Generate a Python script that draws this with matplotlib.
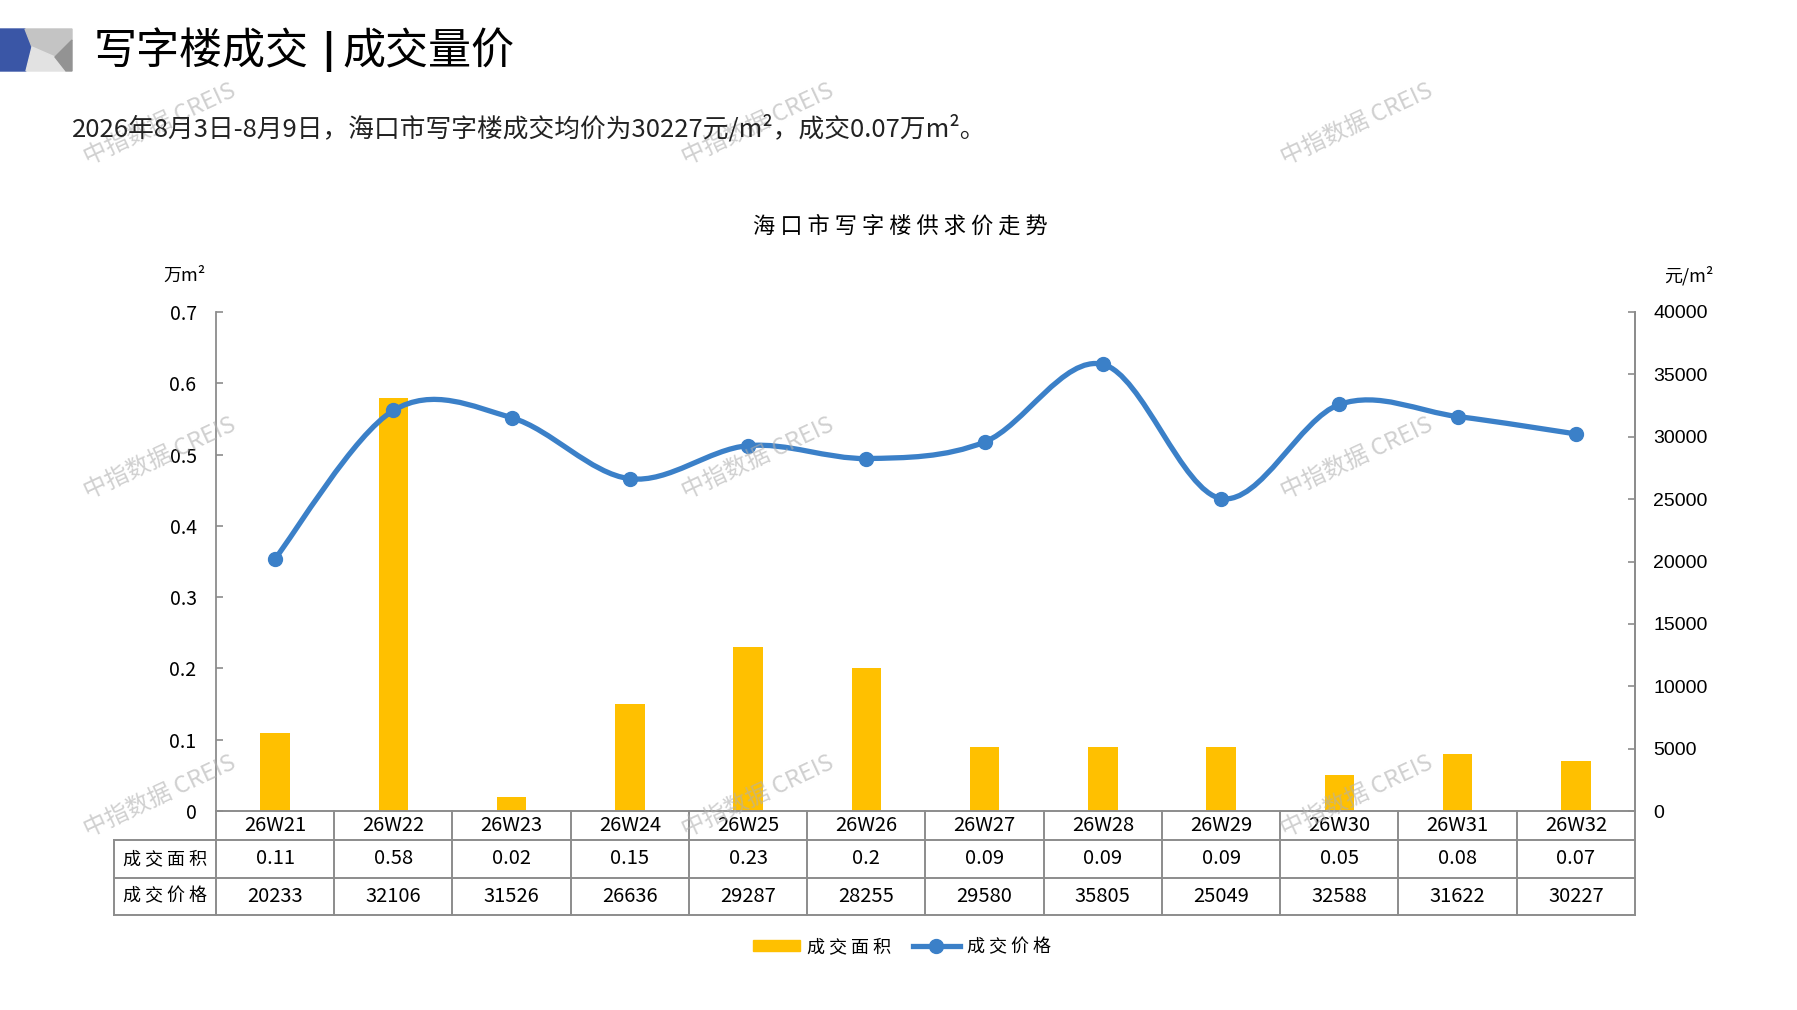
import numpy as np
import matplotlib.pyplot as plt
from matplotlib.path import Path
from matplotlib.patches import PathPatch, Polygon, Rectangle
from matplotlib.lines import Line2D
from matplotlib.transforms import blended_transform_factory

plt.rcParams['font.family'] = ['Noto Sans CJK SC', 'DejaVu Sans']

weeks = ['26W21', '26W22', '26W23', '26W24', '26W25', '26W26',
         '26W27', '26W28', '26W29', '26W30', '26W31', '26W32']
area = [0.11, 0.58, 0.02, 0.15, 0.23, 0.2, 0.09, 0.09, 0.09, 0.05, 0.08, 0.07]
price = [20233, 32106, 31526, 26636, 29287, 28255, 29580, 35805, 25049, 32588, 31622, 30227]
area_labels = ['0.11', '0.58', '0.02', '0.15', '0.23', '0.2',
               '0.09', '0.09', '0.09', '0.05', '0.08', '0.07']
row_names = ['成 交 面 积', '成 交 价 格']

W, H = 1797, 1010
bar_c = '#FFC000'
line_c = '#3B80C8'
grid_c = '#8C8C8C'

fig = plt.figure(figsize=(W / 100, H / 100), dpi=100)
fig.patch.set_facecolor('white')

# main axes (pixel box 216..1635 x 312..811)
ax = fig.add_axes([216 / W, 1 - 811 / H, 1419 / W, 499 / H])
ax.set_facecolor('none')
x = np.arange(len(weeks))
ax.bar(x, area, width=0.25, color=bar_c, zorder=2)
ax.set_xlim(-0.5, len(weeks) - 0.5)
ax.set_ylim(0, 0.7)
ax.set_yticks(np.arange(0, 0.71, 0.1))
ax.set_yticklabels([f'{v:g}' for v in np.arange(0, 0.71, 0.1).round(1)])
ax.set_xticks([])
for s in ['top', 'bottom']:
    ax.spines[s].set_visible(False)
for s in ['left', 'right']:
    ax.spines[s].set_color(grid_c)
    ax.spines[s].set_linewidth(1.3)
ax.tick_params(axis='y', direction='in', length=5, color=grid_c, width=1.2,
               pad=14, labelsize=14)

ax2 = ax.twinx()
ax2.set_ylim(0, 40000)
ax2.set_yticks(np.arange(0, 40001, 5000))
ax2.tick_params(axis='y', direction='in', length=5, color=grid_c, width=1.2,
                pad=13, labelsize=14)
for lab in ax2.get_yticklabels():
    lab.set_family('Liberation Sans')
for s in ['top', 'bottom', 'left']:
    ax2.spines[s].set_visible(False)
ax2.spines['right'].set_color(grid_c)
ax2.spines['right'].set_linewidth(1.3)

# smoothed price line as bezier path through the data points
n = len(price)
verts = [(x[0], price[0])]
codes = [Path.MOVETO]
for i in range(n - 1):
    a = i - 1 if i > 0 else i
    b = i + 2 if i + 2 < n else i + 1
    c1 = (x[i] + (x[i + 1] - x[a]) / 6, price[i] + (price[i + 1] - price[a]) / 6)
    c2 = (x[i + 1] - (x[b] - x[i]) / 6, price[i + 1] - (price[b] - price[i]) / 6)
    verts += [c1, c2, (x[i + 1], price[i + 1])]
    codes += [Path.CURVE4] * 3
ax2.add_patch(PathPatch(Path(verts, codes), fill=False, edgecolor=line_c,
                        lw=3.8, capstyle='round', zorder=3))
ax2.plot(x, price, 'o', color=line_c, ms=10, zorder=4)

# data table under the plot
tr = blended_transform_factory(ax.transData, ax.transAxes)
rows_y = [0, -29 / 499, -67 / 499, -104 / 499]
x_left = -0.5 - 102 / 118.25
x_right = len(weeks) - 0.5
lk = dict(color=grid_c, lw=1.4, transform=tr, clip_on=False)
ax.plot([-0.5, x_right], [0, 0], **lk)
for yy in rows_y[1:]:
    ax.plot([x_left, x_right], [yy, yy], **lk)
for i in range(len(weeks) + 1):
    ax.plot([i - 0.5, i - 0.5], [0, rows_y[-1]], **lk)
ax.plot([x_left, x_left], [rows_y[1], rows_y[-1]], **lk)

tk = dict(transform=tr, ha='center', va='center', fontsize=14.5, clip_on=False)
for i, w in enumerate(weeks):
    ax.text(i, (rows_y[0] + rows_y[1]) / 2, w, **tk)
    ax.text(i, (rows_y[1] + rows_y[2]) / 2, area_labels[i], **tk)
    ax.text(i, (rows_y[2] + rows_y[3]) / 2, str(price[i]), **tk)
lx = (x_left - 0.5) / 2
ax.text(lx, (rows_y[1] + rows_y[2]) / 2, row_names[0], transform=tr,
        ha='center', va='center', fontsize=13)
ax.text(lx, (rows_y[2] + rows_y[3]) / 2, row_names[1], transform=tr,
        ha='center', va='center', fontsize=13)

# unit labels
fig.text(185 / W, 1 - 276 / H, '万m²', ha='center', va='center', fontsize=13)
fig.text(1689 / W, 1 - 276 / H, '元/m²', ha='center', va='center', fontsize=13)

# chart title
fig.text(900 / W, 1 - 226 / H, ' '.join('海口市写字楼供求价走势'),
         ha='center', va='center', fontsize=16)

# legend
handles = [Rectangle((0, 0), 1, 1, color=bar_c),
           Line2D([], [], color=line_c, lw=3.8, marker='o', ms=10)]
leg = fig.legend(handles, row_names, loc='center', bbox_to_anchor=(902 / W, 1 - 947 / H),
                 ncol=2, frameon=False, fontsize=13, handlelength=2.6,
                 handleheight=0.55, columnspacing=1.2, handletextpad=0.4)

# header
fig.text(94 / W, 1 - 52 / H, '写字楼成交', ha='left', va='center', fontsize=31)
fig.text(342 / W, 1 - 52 / H, '成交量价', ha='left', va='center', fontsize=31)
fig.text(72 / W, 1 - 129 / H, '2026年8月3日-8月9日，海口市写字楼成交均价为30227元/m²，成交0.07万m²。',
         ha='left', va='center', fontsize=18.5, color='#222222')

ov = fig.add_axes([0, 0, 1, 1])
ov.set_xlim(0, W)
ov.set_ylim(H, 0)
ov.axis('off')
ov.set_facecolor('none')
ov.plot([329, 329], [31, 72], color='black', lw=3.2, solid_capstyle='butt')
ov.add_patch(Polygon([(0, 29), (25, 29), (32, 47), (26, 71), (0, 71)], color='#3A56A6'))
ov.add_patch(Polygon([(25, 29), (72, 29), (72, 40), (55, 57), (32, 47)], color='#C4C4C4'))
ov.add_patch(Polygon([(32, 47), (55, 57), (66, 71), (26, 71)], color='#E2E2E2'))
ov.add_patch(Polygon([(72, 40), (72, 71), (66, 71), (55, 57)], color='#939393'))

# watermarks
for wx in [160, 758, 1357]:
    for wy in [124, 458, 796]:
        ov.text(wx, wy, '中指数据 CREIS', ha='center', va='center', fontsize=17,
                rotation=25, color='#B0B0B0', alpha=0.6, zorder=10)

fig.savefig('out.png', dpi=100)
